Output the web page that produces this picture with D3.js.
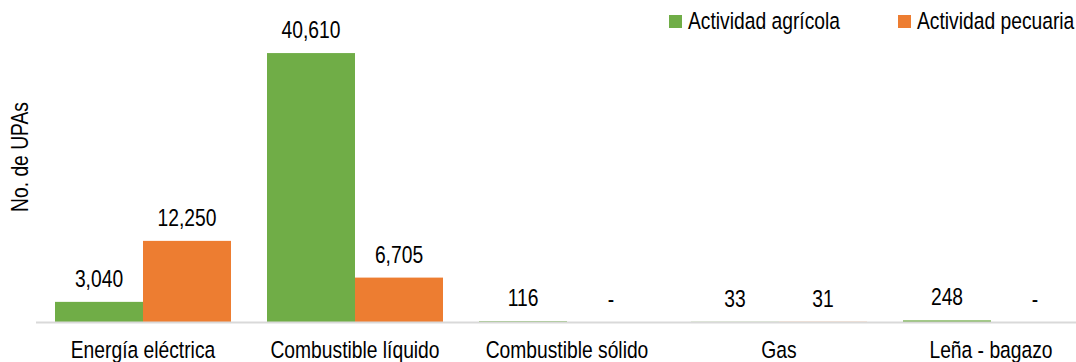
<!DOCTYPE html>
<html>
<head>
<meta charset="utf-8">
<script src="https://cdn.jsdelivr.net/npm/d3@7"></script>
<style>
  html, body { margin: 0; padding: 0; background: #fff; }
  svg { display: block; }
  text { font-family: "Liberation Sans", Arial, sans-serif; font-size: 23.5px; fill: #000; }
</style>
</head>
<body>
<svg id="chart" width="1076" height="362"></svg>
<script>
// Fuentes de energía usadas por las UPAs
const categories = ["Energía eléctrica", "Combustible líquido", "Combustible sólido", "Gas", "Leña - bagazo"];
const seriesNames = ["Actividad agrícola", "Actividad pecuaria"];
const agricola = [3040, 40610, 116, 33, 248];
const pecuaria = [12250, 6705, 0, 31, 0];
const colors = ["#70AD47", "#ED7D31"];

const width = 1076, height = 362;
const baseY = 322;
const narrowX = 0.82; // condensed look for the sans-serif text
const svg = d3.select("#chart");

const rows = categories.map((c, i) => ({ cat: c, values: [agricola[i], pecuaria[i]] }));

const x0 = d3.scaleBand().domain(categories).range([37, 1097]).padding(0);
const groupW = 176;
const x1 = d3.scaleBand().domain(seriesNames).range([0, groupW]).padding(0);
const y = d3.scaleLinear().domain([0, 45000]).range([baseY, 24]);

const fmt = d3.format(",");
const place = (x, yy, rot) => `translate(${x},${yy})${rot ? ` rotate(${rot})` : ""} scale(${narrowX},1)`;

// Barras
const groups = svg.append("g").selectAll("g")
  .data(rows).join("g")
  .attr("transform", d => `translate(${x0(d.cat) + x0.bandwidth() / 2 - groupW / 2},0)`);

groups.selectAll("rect")
  .data(d => d.values.map((v, k) => ({ k, v })))
  .join("rect")
  .attr("x", d => x1(seriesNames[d.k]))
  .attr("width", x1.bandwidth())
  .attr("y", d => y(d.v))
  .attr("height", d => baseY - y(d.v))
  .attr("fill", d => colors[d.k]);

// Etiquetas de valor
groups.selectAll("text.val")
  .data(d => d.values.map((v, k) => ({ k, v })))
  .join("text")
  .attr("class", "val")
  .attr("transform", d => place(x1(seriesNames[d.k]) + x1.bandwidth() / 2, y(d.v) - 15))
  .attr("text-anchor", "middle")
  .text(d => d.v === 0 ? "-" : fmt(d.v));

// Eje horizontal
svg.append("line")
  .attr("x1", 36).attr("x2", width)
  .attr("y1", baseY + 0.5).attr("y2", baseY + 0.5)
  .attr("stroke", "#D9D9D9").attr("stroke-width", 2);

const xAxis = d3.axisBottom(x0).tickSize(0).tickPadding(0);
const axisG = svg.append("g").attr("transform", `translate(0,${baseY})`).call(xAxis);
axisG.select(".domain").remove();
axisG.selectAll("text")
  .attr("y", null)
  .attr("dy", null)
  .attr("transform", place(0, 36))
  .attr("fill", "#000");
axisG.attr("font-family", null).attr("font-size", null);

// Título del eje Y
svg.append("text")
  .attr("transform", place(28, 157, -90))
  .attr("text-anchor", "middle")
  .text("No. de UPAs");

// Leyenda
const legendX = [669, 898];
const legend = svg.append("g").selectAll("g")
  .data(seriesNames).join("g")
  .attr("transform", (d, i) => `translate(${legendX[i]},15)`);
legend.append("rect")
  .attr("width", 13).attr("height", 13)
  .attr("fill", (d, i) => colors[i]);
legend.append("text")
  .attr("transform", place(19, 14))
  .text(d => d);
</script>
</body>
</html>
